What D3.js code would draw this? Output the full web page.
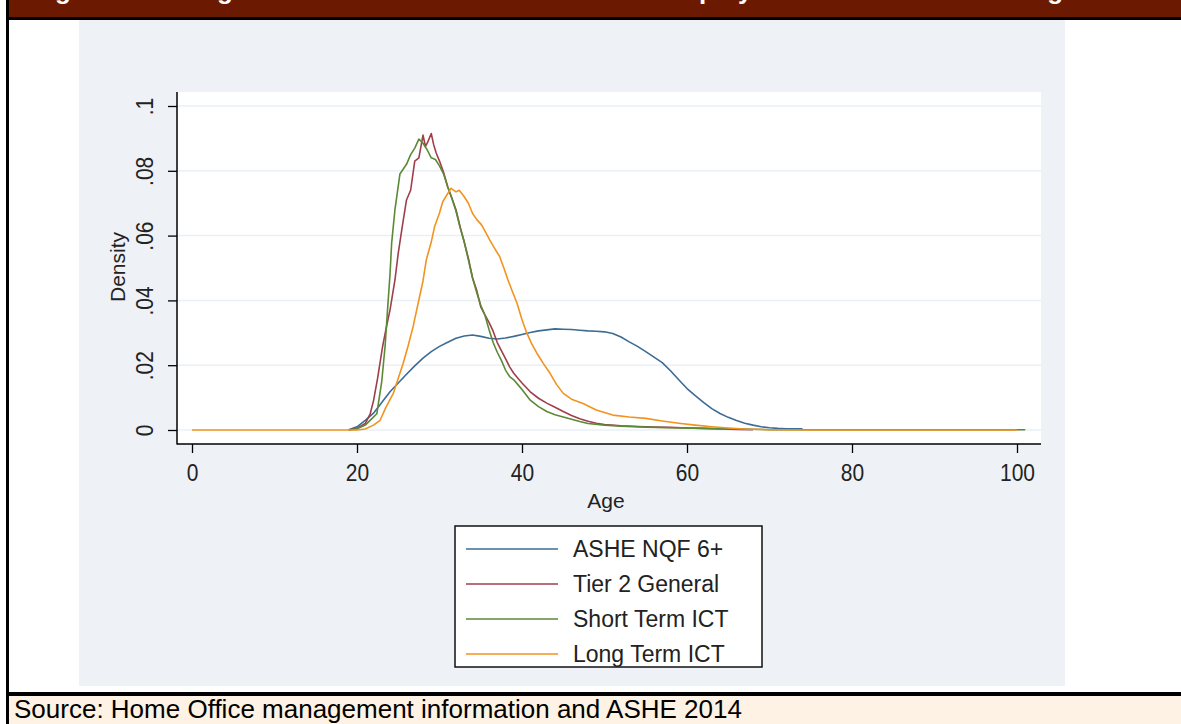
<!DOCTYPE html>
<html>
<head>
<meta charset="utf-8">
<script src="https://cdn.jsdelivr.net/npm/d3@7/dist/d3.min.js"></script>
<style>
  body { margin: 0; background: #fff; }
  text { font-family: Arial, "Liberation Sans", sans-serif; }
</style>
</head>
<body>
<svg id="chart" width="1181" height="724"></svg>
<script>
// tick values
var xTicks = [0, 20, 40, 60, 80, 100];
var yTicks = [0, .02, .04, .06, .08, .1];

var seriesNames = ["ASHE NQF 6+", "Tier 2 General", "Short Term ICT", "Long Term ICT"];
var seriesColors = ["#3d6b94", "#9e3f4a", "#5b8a37", "#f2931f"];

// densities (age, density)
var asheAge = [19, 20, 21, 22, 23, 24, 25, 26, 27, 28, 29, 30, 31, 32, 33, 34, 35, 36, 37, 38, 39, 40,
  41, 42, 43, 44, 45, 46, 47, 48, 49, 50, 51, 52, 53, 54, 55, 56, 57, 58, 59, 60, 61, 62, 63, 64, 65,
  66, 67, 68, 69, 70, 71, 72, 73, 74];
var asheDensity = [.0001, .001, .003, .0052, .0085, .0118, .0145, .0172, .0198, .0222, .0242, .0258,
  .0271, .0283, .029, .0293, .0289, .0283, .0281, .0284, .0289, .0295, .0301, .0306, .0309, .0312,
  .0311, .031, .0308, .0306, .0305, .0303, .0298, .0287, .0272, .0258, .0242, .0225, .0208, .0183,
  .0155, .0128, .0106, .0085, .0066, .0051, .0039, .0029, .0021, .0015, .001, .0007, .0005, .0004,
  .0004, .0004];

var tier2Age = [19, 20, 21, 21.6, 22, 22.5, 23.1, 23.5, 24, 24.6, 25, 25.5, 26, 26.5, 27, 27.5, 28,
  28.3, 28.6, 29, 29.3, 29.6, 30, 30.5, 31, 31.5, 32, 32.5, 33, 33.5, 34, 34.5, 35, 35.5, 36, 36.5,
  37, 37.5, 38, 38.5, 39, 39.5, 40, 41, 42, 43, 44, 45, 46, 47, 48, 49, 50, 52, 54, 56, 58, 60, 62,
  64, 66, 68];
var tier2Density = [0, .0005, .002, .005, .009, .016, .0257, .031, .037, .0463, .0546, .063, .071,
  .074, .083, .084, .091, .0875, .089, .0915, .088, .0855, .083, .0795, .075, .0715, .068, .0627,
  .058, .053, .047, .0432, .038, .0355, .0332, .0305, .027, .0245, .022, .0195, .0175, .016, .0145,
  .0118, .0098, .0083, .007, .0057, .0045, .0035, .0027, .0021, .0017, .0013, .0011, .0009, .0008,
  .0006, .0005, .0003, .0002, .0001];

var stictAge = [19, 20, 21, 21.8, 22.4, 23, 23.4, 23.7, 24, 24.2, 24.6, 25.2, 26, 26.5, 27, 27.5, 28,
  28.5, 29, 29.5, 30, 30.5, 31, 31.5, 32, 32.5, 33, 33.5, 34, 34.5, 35, 35.5, 36, 36.5, 37, 37.5, 38,
  38.5, 39, 39.5, 40, 41, 42, 43, 44, 45, 46, 47, 48, 50, 52, 55, 58, 62, 66, 70, 75, 101];
var stictDensity = [0, .0004, .0015, .0035, .005, .015, .0257, .037, .048, .0577, .068, .079, .082,
  .085, .087, .0898, .0885, .0865, .084, .0835, .0815, .079, .075, .0715, .0675, .0625, .058, .0525,
  .047, .0425, .0385, .0355, .031, .027, .024, .0215, .0185, .0165, .0155, .014, .0125, .0092, .0072,
  .0057, .0047, .004, .0033, .0026, .002, .0015, .0012, .0009, .0007, .0005, .0003, .0001, .0001,
  .0001];

var ltictAge = [0, 20, 21, 22, 22.8, 23.5, 24.4, 25, 25.6, 26.2, 26.8, 27.4, 28, 28.4, 29, 29.4, 30,
  30.4, 31, 31.4, 32, 32.4, 33, 33.5, 34, 34.5, 35.1, 35.6, 36.1, 36.7, 37.3, 37.8, 38.3, 38.8, 39.4,
  40, 40.6, 41.2, 41.8, 42.6, 43.4, 44.2, 45, 46, 47.4, 49, 51, 53, 55, 57, 59, 61, 63, 65, 67, 70,
  75, 100];
var ltictDensity = [0, 0, .0003, .0015, .003, .007, .0113, .016, .0206, .026, .0319, .039, .046,
  .0525, .058, .0627, .067, .0705, .073, .0746, .0735, .074, .072, .07, .0669, .065, .0633, .061,
  .0586, .056, .0535, .05, .0463, .043, .0391, .034, .0298, .0265, .0237, .0205, .0175, .014, .0113,
  .0095, .0082, .0062, .0046, .004, .0036, .0028, .0021, .0015, .001, .0006, .0003, .0001, 0, 0];

// the title sits mostly above the top edge in the reference; only descenders show
var titleText = "Figure 2: The age distribution of Tier 2 and the ICT employees relative to the average";
var sourceText = "Source: Home Office management information and ASHE 2014";

var svg = d3.select("#chart");

// frame: title bar, panel, source bar
svg.append("rect").attr("x", 8).attr("y", 0).attr("width", 1173).attr("height", 17)
  .attr("fill", "#6b1900");
svg.append("text").attr("x", 32).attr("y", -1.5)
  .attr("fill", "#fff").attr("font-weight", "bold").attr("font-size", 26)
  .text(titleText);
svg.append("rect").attr("x", 6).attr("y", 17).attr("width", 1175).attr("height", 3).attr("fill", "#000");
svg.append("rect").attr("x", 79).attr("y", 20).attr("width", 986).attr("height", 666)
  .attr("fill", "#eef1f6");
svg.append("rect").attr("x", 6).attr("y", 692).attr("width", 1175).attr("height", 4).attr("fill", "#000");
svg.append("rect").attr("x", 9).attr("y", 696).attr("width", 1172).attr("height", 28)
  .attr("fill", "#fdf2e4");
svg.append("rect").attr("x", 6).attr("y", 0).attr("width", 3).attr("height", 724).attr("fill", "#000");
svg.append("text").attr("x", 14).attr("y", 718).attr("font-size", 26).attr("fill", "#000")
  .text(sourceText);

// plot region
var plot = { left: 177, right: 1041, top: 92, bottom: 444 };
svg.append("rect").attr("x", plot.left).attr("y", plot.top)
  .attr("width", plot.right - plot.left).attr("height", plot.bottom - plot.top)
  .attr("fill", "#fff");

var x = d3.scaleLinear().domain([0, 100]).range([192, 1017]);
var y = d3.scaleLinear().domain([0, .1]).range([430, 106]);

// gridlines
svg.append("g").selectAll("line").data(yTicks).enter().append("line")
  .attr("x1", plot.left).attr("x2", plot.right)
  .attr("y1", function(d) { return y(d); }).attr("y2", function(d) { return y(d); })
  .attr("stroke", "#eaf0f6").attr("stroke-width", 1.5);

// curves
var series = [
  { age: asheAge, dens: asheDensity },
  { age: tier2Age, dens: tier2Density },
  { age: stictAge, dens: stictDensity },
  { age: ltictAge, dens: ltictDensity }
];
var line = d3.line()
  .x(function(d) { return x(d[0]); })
  .y(function(d) { return y(d[1]); });

svg.append("g").selectAll("path").data(series).enter().append("path")
  .attr("d", function(s) { return line(d3.zip(s.age, s.dens)); })
  .attr("fill", "none")
  .attr("stroke", function(s, i) { return seriesColors[i]; })
  .attr("stroke-width", 1.6)
  .attr("stroke-linejoin", "round");

// axes (stata digits are a bit taller than arial, hence the scale)
var fmtY = function(d) { return d === 0 ? "0" : d3.format(".2f")(d).replace(/^0/, "").replace(/0$/, ""); };

var yAxis = svg.append("g").attr("transform", "translate(" + plot.left + ",0)")
  .call(d3.axisLeft(y).tickValues(yTicks).tickSize(9).tickFormat(fmtY));
yAxis.select(".domain").remove();
yAxis.selectAll(".tick line").attr("stroke", "#000").attr("stroke-width", 1.3);
yAxis.selectAll(".tick text")
  .attr("font-size", 21).attr("fill", "#222").attr("font-family", null)
  .attr("x", null).attr("text-anchor", "middle")
  .attr("transform", "translate(-32,0) rotate(-90) scale(1,1.12)").attr("y", 0).attr("dy", "0.35em");

var xAxis = svg.append("g").attr("transform", "translate(0," + plot.bottom + ")")
  .call(d3.axisBottom(x).tickValues(xTicks).tickSize(9).tickFormat(d3.format("d")));
xAxis.select(".domain").remove();
xAxis.selectAll(".tick line").attr("stroke", "#000").attr("stroke-width", 1.3);
xAxis.selectAll(".tick text")
  .attr("font-size", 21).attr("fill", "#222").attr("font-family", null)
  .attr("y", 0).attr("dy", "0.35em").attr("transform", "translate(0,29) scale(1,1.12)");

svg.append("line").attr("x1", plot.left).attr("x2", plot.left)
  .attr("y1", plot.top).attr("y2", plot.bottom + 0.5).attr("stroke", "#000").attr("stroke-width", 1.5);
svg.append("line").attr("x1", plot.left).attr("x2", plot.right)
  .attr("y1", plot.bottom).attr("y2", plot.bottom).attr("stroke", "#000").attr("stroke-width", 1.5);

// axis titles
svg.append("text").attr("x", 606).attr("y", 508).attr("text-anchor", "middle")
  .attr("font-size", 21).attr("fill", "#222").text("Age");
svg.append("text").attr("transform", "translate(125,267) rotate(-90)").attr("text-anchor", "middle")
  .attr("font-size", 21).attr("fill", "#222").text("Density");

// legend
var legend = svg.append("g");
legend.append("rect").attr("x", 455).attr("y", 526).attr("width", 307).attr("height", 141)
  .attr("fill", "#fff").attr("stroke", "#111").attr("stroke-width", 1.5);
var item = legend.selectAll("g.item").data(seriesNames).enter().append("g")
  .attr("transform", function(d, i) { return "translate(0," + (549 + i * 35) + ")"; });
item.append("line").attr("x1", 466).attr("x2", 558)
  .attr("stroke", function(d, i) { return seriesColors[i]; }).attr("stroke-width", 1.6);
item.append("text").attr("x", 573).attr("dy", "0.36em").attr("font-size", 23).attr("fill", "#222")
  .text(function(d) { return d; });
</script>
</body>
</html>
